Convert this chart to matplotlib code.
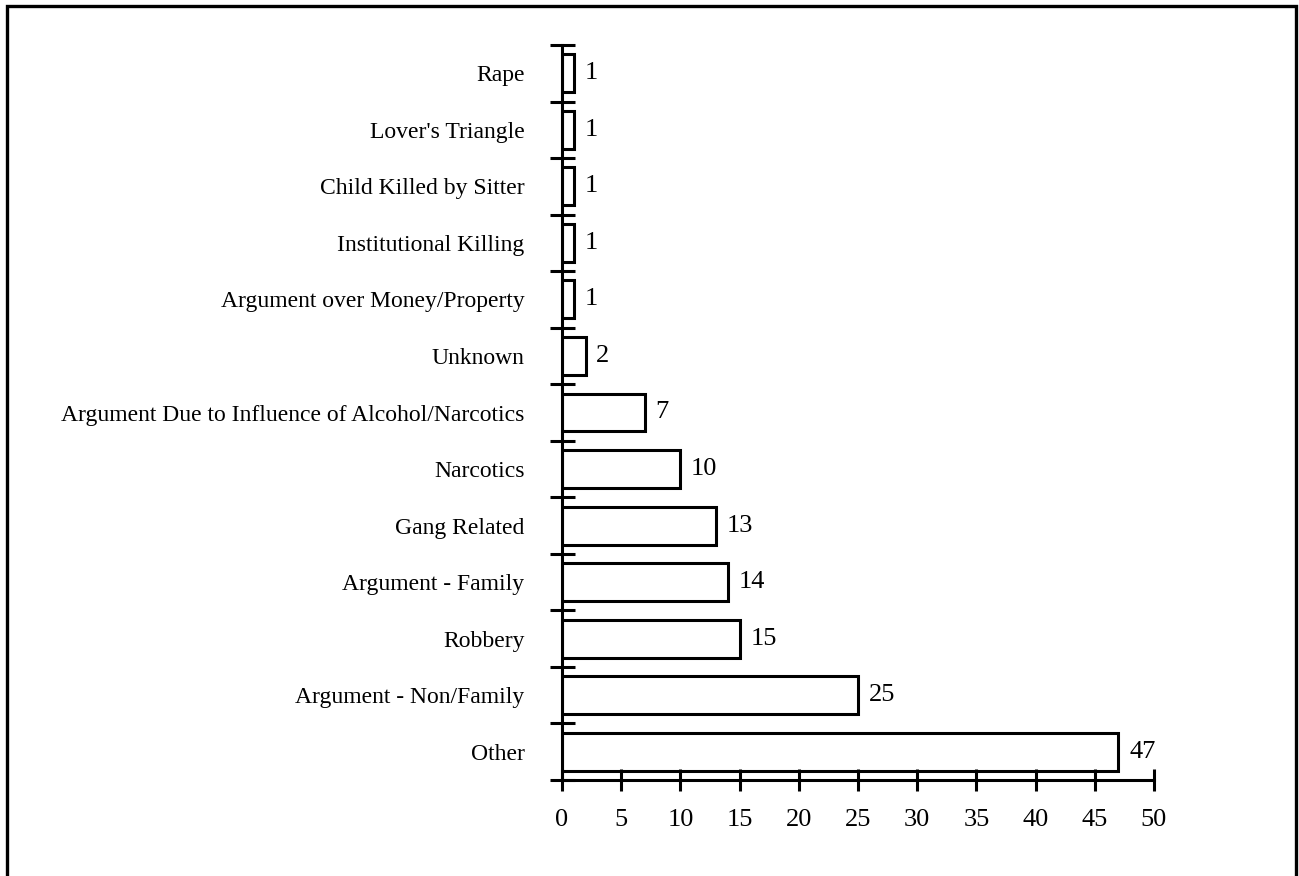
import numpy as np
import matplotlib.pyplot as plt
from matplotlib.patches import Rectangle

# categories listed bottom to top, as drawn
categories = ['Other', 'Argument - Non/Family', 'Robbery', 'Argument - Family',
              'Gang Related', 'Narcotics',
              'Argument Due to Influence of Alcohol/Narcotics', 'Unknown',
              'Argument over Money/Property', 'Institutional Killing',
              'Child Killed by Sitter', "Lover's Triangle", 'Rape']
counts = [47, 25, 15, 14, 13, 10, 7, 2, 1, 1, 1, 1, 1]
xticks = [0, 5, 10, 15, 20, 25, 30, 35, 40, 45, 50]

plt.rcParams['font.family'] = ['Liberation Serif', 'DejaVu Serif']

fig = plt.figure(figsize=(12.99, 8.76), dpi=100)
ax = fig.add_axes([562 / 1299, 1 - 780 / 876, (1154 - 562) / 1299, (780 - 45) / 876])

# outer frame, bottom edge runs off the picture
fig.patches.append(Rectangle((6.5 / 1299, -20 / 876), 1289.5 / 1299, 890 / 876,
                             transform=fig.transFigure, fill=False,
                             edgecolor='black', linewidth=2.4))

y = np.arange(len(categories))
ax.barh(y, counts, height=0.67, color='white', edgecolor='black', linewidth=2.2)

for yi, c in zip(y, counts):
    ax.text(c + 0.9, yi, str(c), va='center', ha='left', fontsize=19)

ax.set_xlim(0, 50)
ax.set_ylim(-0.5, len(categories) - 0.5)

ax.set_xticks(xticks)
ax.set_xticklabels([str(t) for t in xticks], fontsize=19)
ax.tick_params(axis='x', direction='inout', length=16, width=2.2, pad=13)

ax.set_yticks(y)
ax.set_yticklabels(categories, fontsize=17)
ax.tick_params(axis='y', which='major', length=0, pad=27)
ax.set_yticks(np.arange(len(categories) + 1) - 0.5, minor=True)
ax.tick_params(axis='y', which='minor', direction='inout', length=18, width=2.2)

for s in ['top', 'right']:
    ax.spines[s].set_visible(False)
for s in ['left', 'bottom']:
    ax.spines[s].set_linewidth(2.2)

fig.savefig('out.png', dpi=100)
